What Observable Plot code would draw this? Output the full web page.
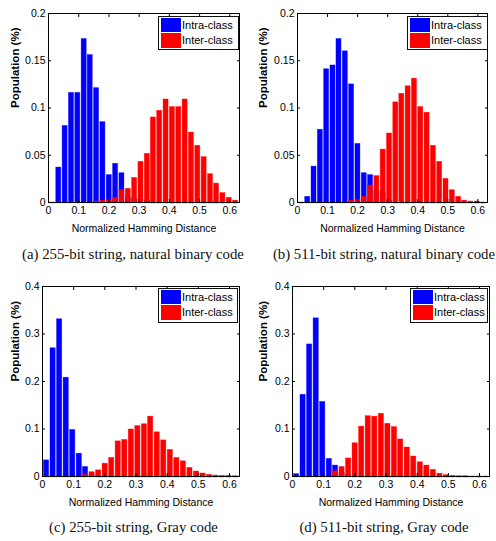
<!DOCTYPE html>
<html><head><meta charset="utf-8">
<script src="https://cdn.jsdelivr.net/npm/d3@7"></script>
<script src="https://cdn.jsdelivr.net/npm/@observablehq/plot@0.6"></script>
<style>
body{margin:0;background:#fff;}
#root{position:relative;width:496px;height:541px;overflow:hidden;font-family:"Liberation Sans",Arial,sans-serif;}
.panel{position:absolute;}
.legend{position:absolute;box-sizing:border-box;border:1.5px solid #111;background:#fff;padding:0 0 0 2px;font-size:11px;}
.item{display:flex;align-items:center;height:15.5px;}
.sw{width:20px;height:14.5px;margin-right:1px;box-sizing:border-box;}
.cap{position:absolute;font-family:"Liberation Serif","Times New Roman",serif;font-size:14.8px;line-height:1;white-space:nowrap;transform:translate(-50%,-50%);color:#111;}
</style></head><body><div id="root"></div>
<script>
// Bin centres (normalized Hamming distance) shared by all histograms
const binCenters = [0.013, 0.034, 0.055, 0.076, 0.097, 0.118, 0.138, 0.159, 0.180, 0.201,
                    0.222, 0.243, 0.264, 0.285, 0.306, 0.327, 0.347, 0.368, 0.389, 0.410,
                    0.431, 0.452, 0.473, 0.494, 0.515, 0.536, 0.556, 0.577, 0.598, 0.619];
const barWidth = 0.0167;
const xDomain = [0, 0.632];
const xTicks = [0, 0.1, 0.2, 0.3, 0.4, 0.5, 0.6];
const yTicksNatural = [0, 0.05, 0.1, 0.15, 0.2];
const yTicksGray = [0, 0.1, 0.2, 0.3, 0.4];
const seriesNames = ["Intra-class", "Inter-class"];
const colors = ["#0000ff", "#ff0000"];
const xTitle = "Normalized Hamming Distance";
const yTitle = "Population (%)";

// (a) 255-bit, natural binary code
const intraA = [0, 0.037, 0.081, 0.116, 0.116, 0.173, 0.156, 0.121, 0.085, 0.029,
                0.041, 0.031, 0.006, 0.004, 0.003, 0.002, 0, 0, 0, 0,
                0, 0, 0, 0, 0, 0, 0, 0, 0, 0];
const interA = [0, 0, 0, 0, 0, 0, 0, 0.001, 0.002, 0.0025,
                0.005, 0.013, 0.0145, 0.026, 0.043, 0.0515, 0.090, 0.097, 0.109, 0.101,
                0.101, 0.109, 0.074, 0.060, 0.048, 0.030, 0.020, 0.010, 0.005, 0.002];
// (b) 511-bit, natural binary code
const intraB = [0, 0.006, 0.038, 0.077, 0.141, 0.145, 0.173, 0.160, 0.125, 0.062,
                0.031, 0.029, 0.011, 0.011, 0.002, 0, 0, 0, 0, 0,
                0, 0, 0, 0, 0, 0, 0, 0, 0, 0];
const interB = [0, 0, 0, 0, 0, 0, 0, 0, 0.002, 0.003,
                0.006, 0.018, 0.028, 0.056, 0.073, 0.106, 0.115, 0.123, 0.131, 0.101,
                0.095, 0.060, 0.043, 0.025, 0.013, 0.006, 0.002, 0.001, 0.001, 0];
// (c) 255-bit, Gray code
const intraC = [0.034, 0.270, 0.331, 0.208, 0.098, 0.048, 0.020, 0.003, 0, 0,
                0, 0, 0, 0, 0, 0, 0, 0, 0, 0,
                0, 0, 0, 0, 0, 0, 0, 0, 0, 0];
const interC = [0, 0, 0, 0, 0, 0, 0.003, 0.009, 0.013, 0.027,
                0.039, 0.074, 0.077, 0.099, 0.106, 0.110, 0.126, 0.093, 0.076, 0.056,
                0.039, 0.032, 0.018, 0.0105, 0.0063, 0.0035, 0.002, 0.001, 0.001, 0.0005];
// (d) 511-bit, Gray code
const intraD = [0.005, 0.172, 0.278, 0.333, 0.157, 0.037, 0.023, 0.008, 0.003, 0,
                0, 0, 0, 0, 0, 0, 0, 0, 0, 0,
                0, 0, 0, 0, 0, 0, 0, 0, 0, 0];
const interD = [0, 0, 0, 0, 0, 0, 0.011, 0.020, 0.038, 0.070,
                0.105, 0.127, 0.126, 0.132, 0.111, 0.104, 0.078, 0.061, 0.042, 0.030,
                0.023, 0.014, 0.006, 0.003, 0.001, 0.0005, 0.0005, 0, 0, 0];

const captions = ["(a) 255-bit string, natural binary code", "(b) 511-bit string, natural binary code",
                  "(c) 255-bit string, Gray code", "(d) 511-bit string, Gray code"];

const panels = [
  {intra: intraA, inter: interA, yTicks: yTicksNatural, left: 0,   top: 0,   mL: 48, mR: 9, mT: 13, mB: 38,
   legend: [158, 16, 81, 34], cap: [133, 254]},
  {intra: intraB, inter: interB, yTicks: yTicksNatural, left: 248, top: 0,   mL: 49, mR: 9, mT: 13, mB: 38,
   legend: [407, 16, 81, 34], cap: [384, 254]},
  {intra: intraC, inter: interC, yTicks: yTicksGray,    left: 0,   top: 270, mL: 42, mR: 9, mT: 16, mB: 34,
   legend: [158, 288, 80, 35], cap: [133.5, 527]},
  {intra: intraD, inter: interD, yTicks: yTicksGray,    left: 248, top: 270, mL: 44, mR: 7, mT: 16, mB: 34,
   legend: [410, 288, 78, 35], cap: [384, 527]}
];

const root = document.getElementById("root");
const W = 248, H = 240;

panels.forEach((p, i) => {
  const rows = binCenters.map((c, k) => ({c, intra: p.intra[k], inter: p.inter[k]}));
  const x1 = d => d.c - barWidth / 2, x2 = d => d.c + barWidth / 2;
  const yDomain = [p.yTicks[0], p.yTicks[p.yTicks.length - 1]];
  const chart = Plot.plot({
    width: W, height: H,
    marginLeft: p.mL, marginRight: p.mR, marginTop: p.mT, marginBottom: p.mB,
    x: {domain: xDomain},
    y: {domain: yDomain},
    style: {fontFamily: "'Liberation Sans', Arial, sans-serif", fontSize: "10px", color: "#000", background: "transparent", overflow: "visible"},
    marks: [
      Plot.rectY(rows, {x1, x2, y: "intra", fill: colors[0], stroke: colors[0], strokeWidth: 0.6, strokeOpacity: 0.6}),
      Plot.ruleY(rows, {x1, x2, y: () => 0, stroke: colors[0], strokeWidth: 1.2}),
      Plot.rectY(rows, {x1, x2, y: "inter", fill: colors[1], stroke: colors[1], strokeWidth: 0.6, strokeOpacity: 0.6}),
      Plot.ruleY(rows.filter(d => d.intra === 0), {x1, x2, y: () => 0, stroke: colors[1], strokeWidth: 1.2}),
      Plot.frame({stroke: "#000", strokeWidth: 1}),
      Plot.axisX({anchor: "bottom", ticks: xTicks, tickSize: 0, tickPadding: 4, tickFormat: d => String(d), label: null, fontSize: 10.5}),
      Plot.axisX({anchor: "bottom", ticks: xTicks, tickSize: -3, text: null, label: null}),
      Plot.axisX({anchor: "top", ticks: xTicks, tickSize: -3, text: null, label: null}),
      Plot.axisY({anchor: "left", ticks: p.yTicks, tickSize: 0, tickPadding: 3, tickFormat: d => String(d), label: null, fontSize: 10.5}),
      Plot.axisY({anchor: "left", ticks: p.yTicks, tickSize: -3, text: null, label: null}),
      Plot.axisY({anchor: "right", ticks: p.yTicks, tickSize: -3, text: null, label: null}),
      Plot.text([xTitle], {frameAnchor: "bottom", dy: 26, text: d => d, fontSize: 10.5, lineAnchor: "middle"}),
      Plot.text([yTitle], {frameAnchor: "left", dx: -(p.mL - 15), rotate: -90, text: d => d, fontSize: 11.5, fontWeight: "bold", lineAnchor: "middle"})
    ]
  });
  const holder = document.createElement("div");
  holder.className = "panel";
  holder.style.left = p.left + "px";
  holder.style.top = p.top + "px";
  holder.appendChild(chart);
  root.appendChild(holder);

  const [lx, ly, lw, lh] = p.legend;
  const lg = document.createElement("div");
  lg.className = "legend";
  Object.assign(lg.style, {left: lx + "px", top: ly + "px", width: lw + "px", height: lh + "px"});
  seriesNames.forEach((name, j) => {
    const it = document.createElement("div");
    it.className = "item";
    const sw = document.createElement("div");
    sw.className = "sw";
    sw.style.background = colors[j];
    it.appendChild(sw);
    const t = document.createElement("span");
    t.textContent = name;
    it.appendChild(t);
    lg.appendChild(it);
  });
  root.appendChild(lg);

  const cap = document.createElement("div");
  cap.className = "cap";
  cap.textContent = captions[i];
  cap.style.left = p.cap[0] + "px";
  cap.style.top = p.cap[1] + "px";
  root.appendChild(cap);
});
</script></body></html>
